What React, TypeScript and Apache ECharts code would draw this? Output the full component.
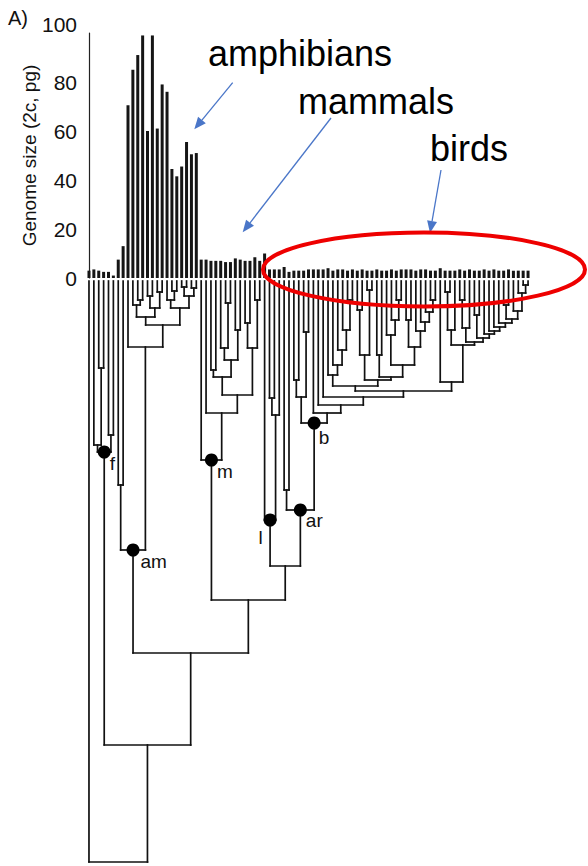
import React, { useEffect, useRef } from "react";
import * as echarts from "echarts";

// Genome size (2c, pg) per taxon, left to right (index = leaf index of the tree)
const FISH_SIZES = [3, 3.5, 3, 2.5, 2.5, 1];
const AMPHIBIAN_SIZES = [7.5, 13, 70.5, 85, 91, 99, 60, 99, 61, 79, 76, 44.5, 41.5, 45.5, 55.5, 50.5, 51];
const MAMMAL_SIZES = [7.5, 7.5, 7, 7, 7, 6.5, 6.5, 8, 7.5, 7, 7, 8.5, 7, 10];
const REPTILE_BIRD_SIZES = [
  3.5, 3.5, 3.5, 4.5, 2.5, 3, 3, 3, 3.5, 3.5, 3.5, 3.5, 4, 3, 3.5, 3.5, 3, 3.5,
  3, 3.5, 3, 3, 3.5, 3, 3, 3.5, 3, 3.5, 3.5, 3.5, 3, 3.5, 3.5, 3, 3, 4, 3, 3,
  3, 3.5, 3, 3.5, 3, 3, 3.5, 3, 3.5, 3, 3, 3.5, 3, 3, 3, 3,
];
const GENOME_SIZE = [...FISH_SIZES, ...AMPHIBIAN_SIZES, ...MAMMAL_SIZES, ...REPTILE_BIRD_SIZES];

const Y_TICKS = [0, 20, 40, 60, 80, 100];

// Tree: [depth below the tips, left child, right child, optional clade label]; leaves are leaf indices
type TreeNode = number | [number, TreeNode, TreeNode, string?];

const BIRDS_LEFT: TreeNode = [116, [99, 42, 43], [51, 44, 45]];
const CLADE_CLA: TreeNode = [94, 49, [84, 50, [69, 51, [49, 52, [19, 53, 54]]]]];
const CLADE_K: TreeNode = [96, [74, 59, 60], [84, [54, 61, [39, 62, [19, 63, 64]]], [66, [39, 65, 66], [50, 67, [41, 68, [31, 69, [19, 70, 71]]]]]]];
const CLADE_CLB: TreeNode = [99, [74, [29, 55, 56], [9, 57, 58]], CLADE_K];
const CLADE_CR7: TreeNode = [53, 81, [50, 82, [46, 83, [42, 84, [38, [24, 85, 86], [30, 87, [12, 88, [4, 89, 90]]]]]]]];
const CLADE_CR: TreeNode = [101, 72, [64, [49, [11, 73, 74], 75], [61, [47, [19, 76, 77], 78], [57, [34, 79, 80], CLADE_CR7]]]];
const BIRDS_RIGHT: TreeNode = [132, 46, [124, 47, [116, 48, [110, [105, CLADE_CLA, CLADE_CLB], CLADE_CR]]]];

const FISH: TreeNode = [171, [164, 1, [87, 2, 3]], [154, 4, 5], "f"];
const AMPHIBIANS: TreeNode = [269, [204, 6, 7],
  [66, 8, [44, [36, [24, 9, [19, 10, 11]], [27, [15, 12, 13], [11, 14, 15]]], [27, [19, 16, [10, 17, 18]], [15, [6, 19, 20], [7, 21, 22]]]]], "am"];
const MAMMALS: TreeNode = [179, 23, [132, 24, [114, [96, [89, 25, 26], [79, [67, 27, [22, 28, 29]], [49, 30, 31]]], [67, [42, 32, 33], [19, 34, 35]]]], "m"];
const LEPIDOSAURS: TreeNode = [239, 36, [134, [117, 37, 38], 39], "l"];
const ARCHOSAURS: TreeNode = [229, [209, 40, 41], [142, BIRDS_LEFT, BIRDS_RIGHT, "b"], "ar"];

const TREE: TreeNode = [581, 0, [464, FISH, [372, AMPHIBIANS, [319, MAMMALS, [285, LEPIDOSAURS, ARCHOSAURS]]]]];
const TREE_DEPTH = 581;

const LABEL_OFFSETS: Record<string, [number, number]> = {
  f: [12, 8], am: [14, 8], m: [12, 8], l: [-5, 14], ar: [12, 7], b: [11, 11],
};

const FONT = "'Liberation Sans', Arial, Helvetica, sans-serif";
const BLUE = "#4a76c8";

function layoutTree(node: TreeNode, segs: number[][], nodes: any[]): { x: number; d: number } {
  if (typeof node === "number") return { x: node, d: 0 };
  const [d, a, b, name] = node;
  const pa = layoutTree(a, segs, nodes);
  const pb = layoutTree(b, segs, nodes);
  segs.push([pa.x, pa.d, pa.x, d]);
  segs.push([pb.x, pb.d, pb.x, d]);
  segs.push([pa.x, d, pb.x, d]);
  const x = (pa.x + pb.x) / 2;
  if (name) nodes.push({ name, value: [x, d] });
  return { x, d };
}

function arrow(x1: number, y1: number, x2: number, y2: number) {
  const ang = Math.atan2(y2 - y1, x2 - x1);
  const len = 12, half = 5;
  const bx = x2 - len * Math.cos(ang), by = y2 - len * Math.sin(ang);
  const px = -Math.sin(ang) * half, py = Math.cos(ang) * half;
  return [
    { type: "line", shape: { x1, y1, x2: bx, y2: by }, style: { stroke: BLUE, lineWidth: 1.3 }, z: 20 },
    { type: "polygon", shape: { points: [[x2, y2], [bx + px, by + py], [bx - px, by - py]] }, style: { fill: BLUE }, z: 20 },
  ];
}

export default function App() {
  const ref = useRef<HTMLDivElement>(null);
  useEffect(() => {
    document.body.style.margin = "0";
    if (!ref.current) return;
    const chart = echarts.init(ref.current, undefined, { renderer: "svg" });
    const segs: number[][] = [];
    const nodes: any[] = [];
    layoutTree(TREE, segs, nodes);
    const n = GENOME_SIZE.length;
    const xMin = -0.2, xMax = n - 0.6;

    chart.setOption({
      animation: false,
      backgroundColor: "#fff",
      textStyle: { fontFamily: FONT },
      grid: [
        { left: 88, width: 442, top: 33, height: 245 },
        { left: 88, width: 442, top: 281, height: TREE_DEPTH },
      ],
      xAxis: [
        { type: "value", gridIndex: 0, min: xMin, max: xMax, show: false },
        { type: "value", gridIndex: 1, min: xMin, max: xMax, show: false },
      ],
      yAxis: [
        {
          type: "value", gridIndex: 0, min: Y_TICKS[0], max: Y_TICKS[Y_TICKS.length - 1], interval: 20,
          name: "Genome size (2c, pg)", nameLocation: "middle", nameGap: 49, nameMoveOverlap: false,
          nameTextStyle: { fontSize: 19, color: "#111", fontFamily: FONT },
          axisLine: { show: true, lineStyle: { color: "#222", width: 1.2 } },
          axisTick: { show: false },
          splitLine: { show: false },
          axisLabel: {
            margin: 11, fontSize: 21, color: "#111", fontFamily: FONT,
            formatter: (v: number) => (v === 100 ? "{t|100}" : String(v)),
            rich: { t: { fontSize: 21, color: "#111", fontFamily: FONT, padding: [0, 0, 18, 0] } },
          },
        },
        { type: "value", gridIndex: 1, min: 0, max: TREE_DEPTH, inverse: true, show: false },
      ],
      series: [
        {
          type: "bar", xAxisIndex: 0, yAxisIndex: 0, barWidth: 3,
          itemStyle: { color: "#151515" },
          data: GENOME_SIZE.map((v, i) => [i, v]),
        },
        {
          type: "custom", xAxisIndex: 1, yAxisIndex: 1,
          encode: { x: [0, 2], y: [1, 3] },
          data: segs,
          renderItem: (_p: any, api: any) => {
            const a = api.coord([api.value(0), api.value(1)]);
            const b = api.coord([api.value(2), api.value(3)]);
            return {
              type: "line",
              shape: { x1: a[0], y1: a[1], x2: b[0], y2: b[1] },
              style: { stroke: "#111", lineWidth: 1.7, lineCap: "square" },
            };
          },
        },
        {
          type: "scatter", xAxisIndex: 1, yAxisIndex: 1, symbolSize: 13,
          itemStyle: { color: "#000", opacity: 1 }, z: 5,
          data: nodes.map((nd) => ({
            name: nd.name,
            value: nd.value,
            label: {
              show: true, formatter: nd.name, position: LABEL_OFFSETS[nd.name],
              align: "left", verticalAlign: "top", fontSize: 19, color: "#111", fontFamily: FONT,
            },
          })),
        },
      ],
      graphic: [
        { type: "text", left: 8, top: 8, style: { text: "A)", fontSize: 20, fill: "#111", fontFamily: FONT } },
        { type: "text", x: 208, y: 53, style: { text: "amphibians", fontSize: 36, fill: "#000", fontFamily: FONT, textVerticalAlign: "middle" }, z: 20 },
        { type: "text", x: 298, y: 101, style: { text: "mammals", fontSize: 36, fill: "#000", fontFamily: FONT, textVerticalAlign: "middle" }, z: 20 },
        { type: "text", x: 430, y: 148, style: { text: "birds", fontSize: 36, fill: "#000", fontFamily: FONT, textVerticalAlign: "middle" }, z: 20 },
        ...arrow(232.7, 82.7, 194.3, 129.3),
        ...arrow(331, 118, 242.7, 232.3),
        ...arrow(441, 170, 430, 233),
        {
          type: "ellipse", shape: { cx: 424, cy: 269.5, rx: 161, ry: 37 },
          style: { fill: "none", stroke: "#ee0000", lineWidth: 4 }, z: 20,
        },
      ],
    });
    return () => chart.dispose();
  }, []);
  return <div ref={ref} style={{ width: 588, height: 866 }} />;
}
